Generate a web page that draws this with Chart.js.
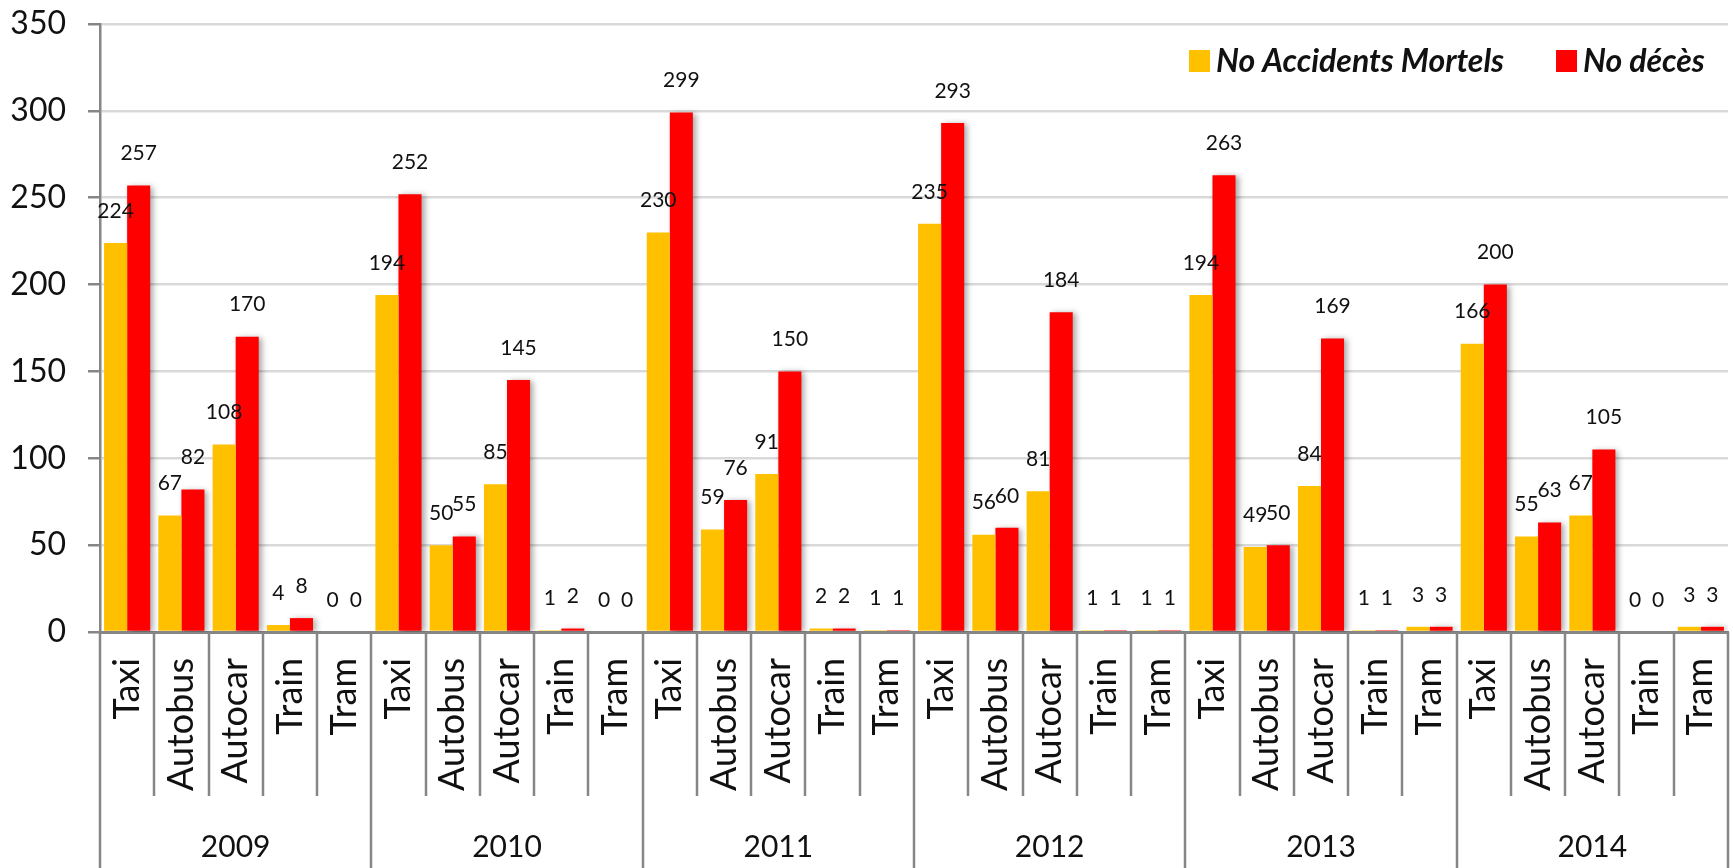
<!DOCTYPE html>
<html>
<head>
<meta charset="utf-8">
<script src="https://cdn.jsdelivr.net/npm/chart.js@4"></script>
<style>
  html, body { margin: 0; padding: 0; background: #fff; }
  #wrap { width: 1733px; height: 868px; }
</style>
</head>
<body>
<div id="wrap"><canvas id="chart"></canvas></div>
<script>
// data
const years = ["2009", "2010", "2011", "2012", "2013", "2014"];
const vehicles = ["Taxi", "Autobus", "Autocar", "Train", "Tram"];
const accidents = [224, 67, 108, 4, 0,  194, 50, 85, 1, 0,  230, 59, 91, 2, 1,
                   235, 56, 81, 1, 1,  194, 49, 84, 1, 3,  166, 55, 67, 0, 3];
const deaths = [257, 82, 170, 8, 0,  252, 55, 145, 2, 0,  299, 76, 150, 2, 1,
                293, 60, 184, 1, 1,  263, 50, 169, 1, 3,  200, 63, 105, 0, 3];
const yTicks = [0, 50, 100, 150, 200, 250, 300, 350];

const categories = [];
years.forEach(() => vehicles.forEach(v => categories.push(v)));

const FONT = "Lato, 'DejaVu Sans', sans-serif";
const AXIS = "#868686";

const extras = {
    id: "extras",
    beforeDatasetDraw(chart, args) {
        const ctx = chart.ctx;
        ctx.save();
        if (args.index === 1) {
            ctx.shadowColor = "rgba(0,0,0,0.35)";
            ctx.shadowBlur = 6;
            ctx.shadowOffsetX = 3;
            ctx.shadowOffsetY = 1;
        }
    },
    afterDatasetDraw(chart) {
        chart.ctx.restore();
    },
    afterDraw(chart) {
        const ctx = chart.ctx;
        const xs = chart.scales.x;
        const area = chart.chartArea;
        const w = xs.getPixelForValue(1) - xs.getPixelForValue(0);

        // separators under the axis
        ctx.save();
        ctx.strokeStyle = AXIS;
        ctx.lineWidth = 2.5;
        for (let i = 0; i <= categories.length; i++) {
            const x = Math.round(xs.getPixelForValue(0) - w / 2 + i * w);
            ctx.beginPath();
            ctx.moveTo(x, area.bottom);
            ctx.lineTo(x, i % vehicles.length === 0 ? chart.height : 796);
            ctx.stroke();
        }
        // year labels
        ctx.fillStyle = "#111";
        ctx.font = "30px " + FONT;
        ctx.textAlign = "center";
        ctx.textBaseline = "middle";
        years.forEach((y, k) => {
            const a = xs.getPixelForValue(k * 5);
            const b = xs.getPixelForValue(k * 5 + 4);
            ctx.fillText(y, (a + b) / 2, 847);
        });

        // value labels
        ctx.font = "21px " + FONT;
        chart.data.datasets.forEach((ds, di) => {
            chart.getDatasetMeta(di).data.forEach((bar, i) => {
                ctx.fillText(String(ds.data[i]), bar.x, bar.y - 32);
            });
        });

        // legend
        let lx = 1189;
        const ly = 61;
        ctx.textAlign = "left";
        ctx.font = "italic bold 32px " + FONT;
        chart.data.datasets.forEach(ds => {
            ctx.fillStyle = ds.backgroundColor;
            ctx.fillRect(lx, ly - 11, 21, 22);
            ctx.fillStyle = "#111";
            ctx.fillText(ds.label, lx + 27, ly + 1);
            lx += 27 + ctx.measureText(ds.label).width + 52;
        });
        ctx.restore();
    }
};

new Chart(document.getElementById("chart"), {
    type: "bar",
    data: {
        labels: categories,
        datasets: [
            { label: "No Accidents Mortels", data: accidents, backgroundColor: "#FFC000" },
            { label: "No décès", data: deaths, backgroundColor: "#FF0000" }
        ]
    },
    options: {
        responsive: true,
        maintainAspectRatio: false,
        animation: false,
        datasets: { bar: { categoryPercentage: 0.85, barPercentage: 1.0 } },
        layout: { padding: { top: 24, right: 5, bottom: 0, left: 0 } },
        plugins: { legend: { display: false }, tooltip: { enabled: false } },
        scales: {
            x: {
                grid: { display: false, drawTicks: false },
                border: { display: true, color: AXIS, width: 3 },
                ticks: {
                    autoSkip: false, minRotation: 90, maxRotation: 90, padding: 26,
                    color: "#111", font: { family: FONT, size: 36 }
                },
                afterFit(scale) {
                    scale.height = 236;
                    scale.paddingLeft = 0;
                    scale.paddingRight = 0;
                }
            },
            y: {
                min: 0, max: 350,
                afterBuildTicks(scale) { scale.ticks = yTicks.map(v => ({ value: v })); },
                grid: { color: "#d9d9d9", lineWidth: 2.5, tickColor: AXIS, tickLength: 12 },
                border: { color: AXIS, width: 2.5 },
                ticks: { color: "#111", padding: 22, font: { family: FONT, size: 32 } },
                afterFit(scale) {
                    scale.width = 100;
                    scale.paddingTop = 0;
                    scale.paddingBottom = 0;
                }
            }
        }
    },
    plugins: [extras]
});
</script>
</body>
</html>
